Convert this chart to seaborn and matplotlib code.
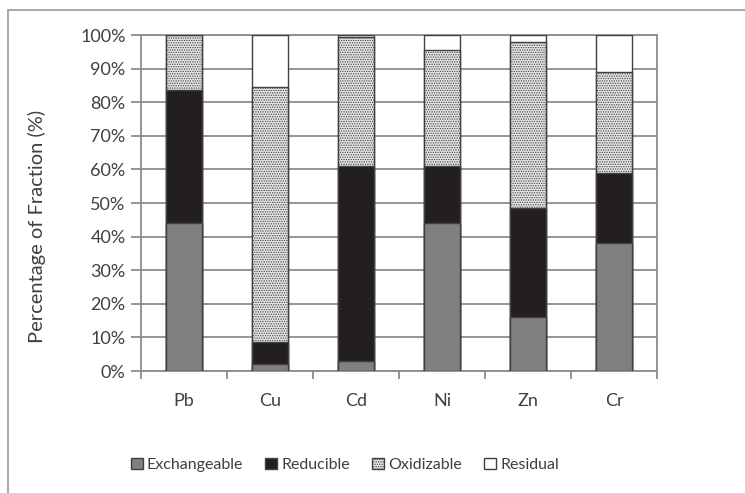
import numpy as np
import pandas as pd
import seaborn as sns
from matplotlib import pyplot as plt
from matplotlib.patches import Rectangle, Patch

sns.set_style('white')
plt.rcParams['font.family'] = ['Lato', 'DejaVu Sans']

# metals and fraction percentages
metals = ['Pb', 'Cu', 'Cd', 'Ni', 'Zn', 'Cr']
exchangeable = [44, 2, 3, 44, 16, 38]
reducible = [39.5, 6.5, 58, 17, 32.5, 21]
oxidizable = [16.5, 76, 38.5, 34.5, 49.5, 30]
residual = [0, 15.5, 0.5, 4.5, 2, 11]
fractions = ['Exchangeable', 'Reducible', 'Oxidizable', 'Residual']

df = pd.DataFrame({'metal': metals,
                   'Exchangeable': exchangeable,
                   'Reducible': reducible,
                   'Oxidizable': oxidizable,
                   'Residual': residual})

# cumulative tops, drawn from the top fraction down so lower bars cover upper ones
cum = df[fractions].cumsum(axis=1)

face = {'Exchangeable': '#808080', 'Reducible': '#231f20',
        'Oxidizable': '#e4e4e4', 'Residual': '#ffffff'}
text_col = '#404040'
edge_col = '#404040'

fig, ax = plt.subplots(figsize=(7.45, 4.93), dpi=100)
fig.subplots_adjust(left=141/745, right=657/745, top=1-35/493, bottom=1-371/493)

plt.rcParams['hatch.color'] = '#9a9a9a'
plt.rcParams['hatch.linewidth'] = 0.6

for frac in reversed(fractions):
    n_before = len(ax.patches)
    sns.barplot(x=df['metal'], y=cum[frac], ax=ax, color=face[frac],
                width=0.41, edgecolor=edge_col, linewidth=1.0, saturation=1, zorder=3)
    if frac == 'Oxidizable':
        for p in ax.patches[n_before:]:
            p.set_hatch('.......')

ax.set_ylim(0, 100)
ax.set_xlim(-0.5, 5.5)
ax.set_yticks(np.arange(0, 101, 10))
ax.set_yticklabels([f'{v}%' for v in range(0, 101, 10)])
ax.yaxis.grid(True, color='#8c8c8c', linewidth=1.3, zorder=0)
ax.set_axisbelow(True)
ax.set_xlabel('')
ax.set_ylabel('Percentage of Fraction (%)', fontsize=14.5, color=text_col)
ax.yaxis.set_label_coords(-0.184, 0.43)

ax.tick_params(axis='y', direction='out', length=7, width=1.3, color='#8c8c8c',
               labelsize=13, labelcolor=text_col, pad=4, left=True)
ax.tick_params(axis='x', which='major', length=0, labelsize=13, labelcolor=text_col, pad=16)
ax.set_xticks(np.arange(-0.5, 6, 1), minor=True)
ax.tick_params(axis='x', which='minor', direction='out', length=6, width=1.3, color='#8c8c8c', bottom=True)

for side in ['left', 'right', 'bottom', 'top']:
    ax.spines[side].set_color('#8c8c8c')
    ax.spines[side].set_linewidth(1.3)

handles = [Patch(facecolor=face[f], edgecolor=edge_col, linewidth=1.0,
                 hatch='.......' if f == 'Oxidizable' else None) for f in fractions]
fig.legend(handles, fractions, loc='center', bbox_to_anchor=(0.463, 1-465/493), ncol=4,
           frameon=False, fontsize=11.5, labelcolor=text_col, handlelength=0.75,
           handleheight=0.75, handletextpad=0.25, columnspacing=1.4)

# chart frame
fig.patches.append(Rectangle((8/745, -0.1), 1.1, 1-10/493+0.1, transform=fig.transFigure,
                             fill=False, edgecolor='#a0a0a0', linewidth=1.3))

fig.savefig('out.png', dpi=100)
